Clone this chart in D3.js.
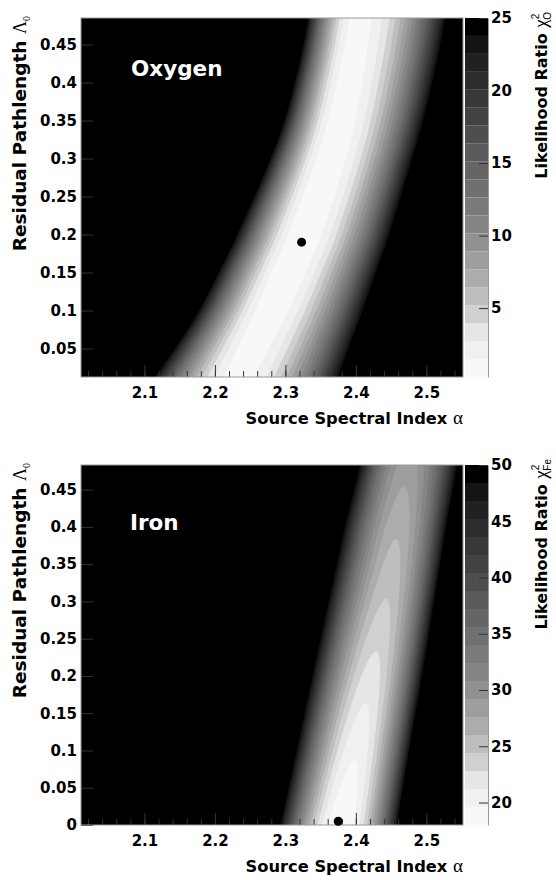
<!DOCTYPE html>
<html>
<head>
<meta charset="utf-8">
<script src="https://cdn.jsdelivr.net/npm/d3@7"></script>
<style>
  body { margin: 0; background: #fff; }
  text { font-family: 'DejaVu Sans', sans-serif; font-weight: bold; }
</style>
</head>
<body>
<div id="chart"></div>
<script>
// valley of the chi2 surface
const lambdaOxygen    = [0.0125, 0.1, 0.19, 0.3, 0.4, 0.485],
      valleyOxygen    = [2.232, 2.278, 2.320, 2.364, 2.388, 2.402],
      leftEdgeOxygen  = [2.112, 2.179, 2.222, 2.281, 2.314, 2.331],
      rightEdgeOxygen = [2.378, 2.413, 2.446, 2.484, 2.513, 2.530],
      floorOxygen     = [0.9, 0.5, 0.3, 0.45, 0.7, 0.9];

const lambdaIron    = [0, 0.1, 0.2, 0.3, 0.4, 0.483],
      valleyIron    = [2.380, 2.401, 2.422, 2.443, 2.461, 2.472],
      leftEdgeIron  = [2.291, 2.314, 2.336, 2.359, 2.382, 2.404],
      rightEdgeIron = [2.460, 2.477, 2.496, 2.513, 2.530, 2.546],
      floorIron     = [18.0, 19.8, 22.0, 24.4, 26.3, 28.3];

const bestOxygen = [2.323, 0.19],
      bestIron   = [2.375, 0.005];

const alphaTicks  = [2.1, 2.2, 2.3, 2.4, 2.5],
      lambdaTicks = [0, 0.05, 0.1, 0.15, 0.2, 0.25, 0.3, 0.35, 0.4, 0.45],
      oxygenZTicks = [5, 10, 15, 20, 25],
      ironZTicks   = [20, 25, 30, 35, 40, 45, 50];

const width = 556,
      height = 880,
      plotLeft = 81,
      plotRight = 463,
      barLeft = 465,
      barRight = 488,
      nLevels = 20;

const palette = [248, 240, 230, 208, 190, 172, 158, 145, 133, 122,
                 112, 101, 90, 78, 67, 56, 45, 33, 20, 0];

const svg = d3.select('#chart')
              .append('svg')
              .attr('width', width)
              .attr('height', height);

// smooth curve through the row values (uniform B-spline over row index)
function alongValley(rows, vals) {
  const t = d3.scaleLinear()
              .domain(rows)
              .range(rows.map(function(d, i) { return i / (rows.length - 1); }))
              .clamp(true);
  const b = d3.interpolateBasis(vals);
  return function(lam) { return b(t(lam)); };
}

function surface(rows, valley, leftEdge, rightEdge, floor, zMax) {
  const c = alongValley(rows, valley),
        l = alongValley(rows, leftEdge),
        r = alongValley(rows, rightEdge),
        f = alongValley(rows, floor);

  return function(a, lam) {
    const mid = c(lam),
          half = a < mid ? mid - l(lam) : r(lam) - mid,
          d = (a - mid) / half;
    return f(lam) + (zMax - f(lam)) * d * d;
  };
}

function drawPanel(p) {
  const x = d3.scaleLinear()
              .domain([2.01, 2.552])
              .range([plotLeft, plotRight]);

  const y = d3.scaleLinear()
              .domain(p.lambdaDomain)
              .range([p.bottom, p.top]);

  const z = d3.scaleLinear()
              .domain(p.zDomain)
              .range([p.bottom, p.top]);

  const chi2 = surface(p.rows, p.valley, p.leftEdge, p.rightEdge, p.floor, p.zDomain[1]);

  const nx = 191,
        ny = 180,
        cw = (plotRight - plotLeft) / nx,
        ch = (p.bottom - p.top) / ny;

  const values = new Array(nx * ny);
  for (let j = 0; j < ny; j++) {
    for (let i = 0; i < nx; i++) {
      const a = x.invert(plotLeft + (i + 0.5) * cw),
            lam = y.invert(p.top + (j + 0.5) * ch);
      values[j * nx + i] = Math.min(chi2(a, lam), p.zDomain[1] * 2);
    }
  }

  const step = (p.zDomain[1] - p.zDomain[0]) / nLevels,
        levels = d3.range(nLevels).map(function(i) { return p.zDomain[0] + i * step; });

  const contours = d3.contours()
                     .size([nx, ny])
                     .thresholds(levels)(values);

  svg.append('rect')
     .attr('x', plotLeft)
     .attr('y', p.top)
     .attr('width', plotRight - plotLeft)
     .attr('height', p.bottom - p.top)
     .attr('fill', d3.rgb(palette[0], palette[0], palette[0]));

  svg.append('g')
     .attr('transform', 'translate(' + plotLeft + ',' + p.top + ') scale(' + cw + ',' + ch + ')')
     .selectAll('path')
     .data(contours)
     .enter()
     .append('path')
     .attr('d', d3.geoPath())
     .attr('fill', function(d, i) { return d3.rgb(palette[i], palette[i], palette[i]); });

  // minor + major ticks, drawn inward
  const xMinor = d3.axisBottom(x)
                   .tickValues(d3.range(2.02, 2.55, 0.02))
                   .tickSize(-6)
                   .tickFormat('');

  svg.append('g')
     .attr('transform', 'translate(0,' + p.bottom + ')')
     .call(xMinor)
     .call(function(g) { g.select('.domain').remove(); })
     .selectAll('line')
     .attr('stroke', '#333');

  const xAxis = d3.axisBottom(x)
                  .tickValues(alphaTicks)
                  .tickSize(-12)
                  .tickSizeOuter(0)
                  .tickPadding(10)
                  .tickFormat(function(d) { return d; });

  const xg = svg.append('g')
                .attr('transform', 'translate(0,' + p.bottom + ')')
                .call(xAxis)
                .attr('font-size', 15)
                .attr('font-family', 'DejaVu Sans');
  xg.selectAll('.tick line').attr('stroke', '#333');
  xg.select('.domain').remove();

  const yTicks = lambdaTicks.filter(function(d) { return d >= p.lambdaDomain[0]; });

  const yAxis = d3.axisLeft(y)
                  .tickValues(yTicks)
                  .tickSize(-12)
                  .tickSizeOuter(0)
                  .tickPadding(4)
                  .tickFormat(function(d) { return d; });

  const yg = svg.append('g')
                .attr('transform', 'translate(' + plotLeft + ',0)')
                .call(yAxis)
                .attr('font-size', 15)
                .attr('font-family', 'DejaVu Sans');
  yg.selectAll('.tick line').attr('stroke', '#333');
  yg.select('.domain').remove();

  svg.append('rect')
     .attr('x', plotLeft)
     .attr('y', p.top)
     .attr('width', plotRight - plotLeft)
     .attr('height', p.bottom - p.top)
     .attr('fill', 'none')
     .attr('stroke', '#999');

  svg.append('circle')
     .attr('cx', x(p.best[0]))
     .attr('cy', y(p.best[1]))
     .attr('r', 4.5)
     .attr('fill', '#000');

  svg.append('text')
     .attr('x', p.labelX)
     .attr('y', p.labelY)
     .attr('fill', '#fff')
     .attr('font-size', 21.5)
     .text(p.name);

  // colour scale
  svg.append('g')
     .selectAll('rect')
     .data(levels)
     .enter()
     .append('rect')
     .attr('x', barLeft)
     .attr('width', barRight - barLeft)
     .attr('y', function(d) { return z(d + step); })
     .attr('height', function(d) { return z(d) - z(d + step); })
     .attr('fill', function(d, i) { return d3.rgb(palette[i], palette[i], palette[i]); });

  const zAxis = d3.axisRight(z)
                  .tickValues(p.zTicks)
                  .tickSize(-9)
                  .tickSizeOuter(0)
                  .tickPadding(3)
                  .tickFormat(function(d) { return d; });

  const zg = svg.append('g')
                .attr('transform', 'translate(' + barRight + ',0)')
                .call(zAxis)
                .attr('font-size', 15)
                .attr('font-family', 'DejaVu Sans');
  zg.selectAll('.tick line').attr('stroke', '#333');
  zg.select('.domain').attr('stroke', '#999');

  // axis titles
  const xt = svg.append('text')
                .attr('x', plotRight)
                .attr('y', p.bottom + 47)
                .attr('text-anchor', 'end')
                .attr('font-size', 16.3)
                .text('Source Spectral Index ');
  xt.append('tspan')
    .attr('font-family', 'Liberation Serif, serif')
    .attr('font-weight', 'normal')
    .attr('font-size', 19)
    .text('α');

  const yt = svg.append('text')
                .attr('transform', 'translate(26,' + (p.top - 2) + ') rotate(-90)')
                .attr('text-anchor', 'end')
                .attr('font-size', 18.5)
                .text('Residual Pathlength ');
  yt.append('tspan')
    .attr('font-family', 'Liberation Serif, serif')
    .attr('font-weight', 'normal')
    .attr('font-size', 18)
    .text('Λ');
  yt.append('tspan')
    .attr('font-family', 'Liberation Serif, serif')
    .attr('font-weight', 'normal')
    .attr('font-size', 10)
    .attr('dy', 4)
    .text('0');

  const zt = svg.append('text')
                .attr('transform', 'translate(547,' + (p.top - 6) + ') rotate(-90)')
                .attr('text-anchor', 'end')
                .attr('font-size', 16)
                .text('Likelihood Ratio ');
  zt.append('tspan')
    .attr('font-family', 'Liberation Serif, serif')
    .attr('font-weight', 'normal')
    .attr('font-size', 19)
    .text('χ');
  zt.append('tspan')
    .attr('font-family', 'Liberation Sans, sans-serif')
    .attr('font-weight', 'normal')
    .attr('font-size', 10)
    .attr('dy', -8)
    .text('2');
  zt.append('tspan')
    .attr('font-family', 'Liberation Sans, sans-serif')
    .attr('font-weight', 'normal')
    .attr('font-size', 10)
    .attr('dx', -6)
    .attr('dy', 12)
    .text(p.sub);
}

drawPanel({
  top: 18,
  bottom: 377,
  lambdaDomain: [0.0125, 0.485],
  zDomain: [0.25, 25],
  rows: lambdaOxygen,
  valley: valleyOxygen,
  leftEdge: leftEdgeOxygen,
  rightEdge: rightEdgeOxygen,
  floor: floorOxygen,
  best: bestOxygen,
  zTicks: oxygenZTicks,
  name: 'Oxygen',
  sub: 'O',
  labelX: 131,
  labelY: 76
});

drawPanel({
  top: 465,
  bottom: 825,
  lambdaDomain: [0, 0.483],
  zDomain: [18, 50],
  rows: lambdaIron,
  valley: valleyIron,
  leftEdge: leftEdgeIron,
  rightEdge: rightEdgeIron,
  floor: floorIron,
  best: bestIron,
  zTicks: ironZTicks,
  name: 'Iron',
  sub: 'Fe',
  labelX: 130,
  labelY: 530
});
</script>
</body>
</html>
